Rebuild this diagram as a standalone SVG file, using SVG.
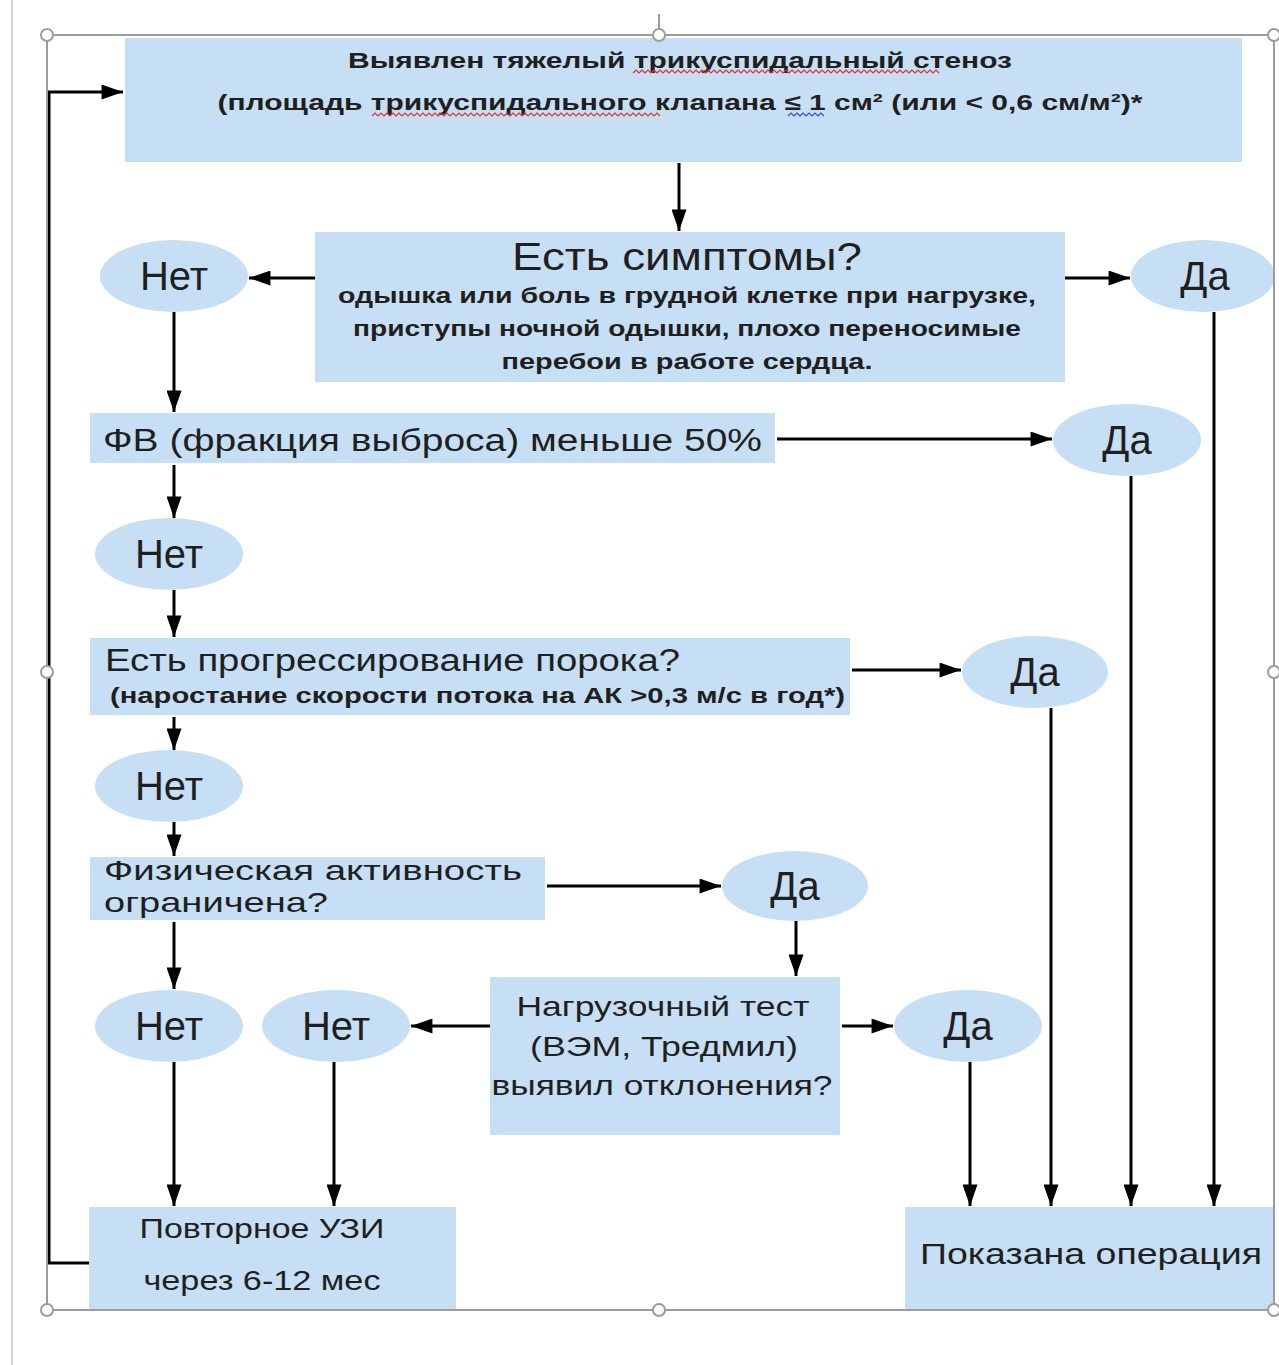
<svg xmlns="http://www.w3.org/2000/svg" width="1279" height="1365" viewBox="0 0 1279 1365">
<style>
.box{fill:#c6dff4}
.ell{fill:#c6dff4}
.t{font-family:"Liberation Sans",Arial,sans-serif;fill:#1f1f1f}
.b{font-weight:bold}
.c{text-anchor:middle}
.ln{fill:none;stroke:#000;stroke-width:3}
.fr{fill:none;stroke:#9c9c9c;stroke-width:2}
.h{fill:#fff;stroke:#9c9c9c;stroke-width:2}
</style>
<defs>
<marker id="ah" viewBox="0 0 20 14" refX="20" refY="7" markerWidth="22" markerHeight="15" markerUnits="userSpaceOnUse" orient="auto">
<path d="M0,0 L20,7 L0,14 z" fill="#000"/>
</marker>
</defs>
<rect width="1279" height="1365" fill="#fff"/>
<line x1="12" y1="0" x2="12" y2="1365" stroke="#d4d4d4" stroke-width="2"/>

<g id="n-top">
<rect class="box" x="125" y="38" width="1117" height="124"/>
<text class="t b c" x="680" y="68" font-size="22" textLength="664" lengthAdjust="spacingAndGlyphs">Выявлен тяжелый трикуспидальный стеноз</text>
<text class="t b c" x="680" y="110" font-size="22" textLength="925" lengthAdjust="spacingAndGlyphs">(площадь трикуспидального клапана ≤ 1 см² (или &lt; 0,6 см/м²)*</text>
<path d="M633,73 l3,-3 l3,3 l3,-3 l3,3 l3,-3 l3,3 l3,-3 l3,3 l3,-3 l3,3 l3,-3 l3,3 l3,-3 l3,3 l3,-3 l3,3 l3,-3 l3,3 l3,-3 l3,3 l3,-3 l3,3 l3,-3 l3,3 l3,-3 l3,3 l3,-3 l3,3 l3,-3 l3,3 l3,-3 l3,3 l3,-3 l3,3 l3,-3 l3,3 l3,-3 l3,3 l3,-3 l3,3 l3,-3 l3,3 l3,-3 l3,3 l3,-3 l3,3 l3,-3 l3,3 l3,-3 l3,3 l3,-3 l3,3 l3,-3 l3,3 l3,-3 l3,3 l3,-3 l3,3 l3,-3 l3,3 l3,-3 l3,3 l3,-3 l3,3 l3,-3 l3,3 l3,-3 l3,3 l3,-3 l3,3 l3,-3 l3,3 l3,-3 l3,3 l3,-3 l3,3 l3,-3 l3,3 l3,-3 l3,3 l3,-3 l3,3 l3,-3 l3,3 l3,-3 l3,3 l3,-3 l3,3 l3,-3 l3,3 l3,-3 l3,3 l3,-3 l3,3 l3,-3 l3,3 l3,-3 l3,3 l3,-3 l3,3 l3,-3 l3,3" fill="none" stroke="#e03030" stroke-width="1.2"/>
<path d="M372,116 l3,-3 l3,3 l3,-3 l3,3 l3,-3 l3,3 l3,-3 l3,3 l3,-3 l3,3 l3,-3 l3,3 l3,-3 l3,3 l3,-3 l3,3 l3,-3 l3,3 l3,-3 l3,3 l3,-3 l3,3 l3,-3 l3,3 l3,-3 l3,3 l3,-3 l3,3 l3,-3 l3,3 l3,-3 l3,3 l3,-3 l3,3 l3,-3 l3,3 l3,-3 l3,3 l3,-3 l3,3 l3,-3 l3,3 l3,-3 l3,3 l3,-3 l3,3 l3,-3 l3,3 l3,-3 l3,3 l3,-3 l3,3 l3,-3 l3,3 l3,-3 l3,3 l3,-3 l3,3 l3,-3 l3,3 l3,-3 l3,3 l3,-3 l3,3 l3,-3 l3,3 l3,-3 l3,3 l3,-3 l3,3 l3,-3 l3,3 l3,-3 l3,3 l3,-3 l3,3 l3,-3 l3,3 l3,-3 l3,3 l3,-3 l3,3 l3,-3 l3,3 l3,-3 l3,3 l3,-3 l3,3 l3,-3 l3,3 l3,-3 l3,3 l3,-3 l3,3 l3,-3 l3,3" fill="none" stroke="#e03030" stroke-width="1.2"/>
<path d="M788,116 l3,-3 l3,3 l3,-3 l3,3 l3,-3 l3,3 l3,-3 l3,3 l3,-3 l3,3 l3,-3 l3,3" fill="none" stroke="#3050e0" stroke-width="1.2"/>
</g>

<g id="n-symptoms">
<rect class="box" x="315" y="232" width="750" height="150"/>
<text class="t c" x="687" y="270" font-size="38" textLength="350" lengthAdjust="spacingAndGlyphs">Есть симптомы?</text>
<text class="t b c" x="687" y="303" font-size="22" fill="#333" textLength="698" lengthAdjust="spacingAndGlyphs">одышка или боль в грудной клетке при нагрузке,</text>
<text class="t b c" x="687" y="336" font-size="22" textLength="668" lengthAdjust="spacingAndGlyphs">приступы ночной одышки, плохо переносимые</text>
<text class="t b c" x="687" y="369" font-size="22" textLength="371" lengthAdjust="spacingAndGlyphs">перебои в работе сердца.</text>
</g>

<g id="n-net1"><ellipse class="ell" cx="174" cy="276" rx="74" ry="36"/><text class="t c" x="174" y="290" font-size="40">Нет</text></g>
<g id="n-da1"><ellipse class="ell" cx="1203" cy="276" rx="72" ry="36"/><text class="t c" x="1205" y="290" font-size="40">Да</text></g>

<g id="n-fv">
<rect class="box" x="90" y="413" width="685" height="50"/>
<text class="t" x="103" y="451" font-size="31" textLength="659" lengthAdjust="spacingAndGlyphs">ФВ  (фракция выброса) меньше 50%</text>
</g>
<g id="n-da2"><ellipse class="ell" cx="1127" cy="440" rx="74" ry="36"/><text class="t c" x="1127" y="454" font-size="40">Да</text></g>
<g id="n-net2"><ellipse class="ell" cx="169" cy="554" rx="74" ry="36"/><text class="t c" x="169" y="568" font-size="40">Нет</text></g>

<g id="n-prog">
<rect class="box" x="90" y="638" width="760" height="77"/>
<text class="t" x="105" y="671" font-size="31" textLength="575" lengthAdjust="spacingAndGlyphs">Есть прогрессирование порока?</text>
<text class="t b" x="110" y="703" font-size="22" fill="#333" textLength="735" lengthAdjust="spacingAndGlyphs">(наростание скорости потока на АК &gt;0,3 м/с в год*)</text>
</g>
<g id="n-da3"><ellipse class="ell" cx="1035" cy="672" rx="73" ry="36"/><text class="t c" x="1035" y="686" font-size="40">Да</text></g>
<g id="n-net3"><ellipse class="ell" cx="169" cy="786" rx="74" ry="36"/><text class="t c" x="169" y="800" font-size="40">Нет</text></g>

<g id="n-fa">
<rect class="box" x="90" y="857" width="455" height="63"/>
<text class="t" x="104" y="880" font-size="28" textLength="418" lengthAdjust="spacingAndGlyphs">Физическая активность</text>
<text class="t" x="104" y="912" font-size="28" textLength="224" lengthAdjust="spacingAndGlyphs">ограничена?</text>
</g>
<g id="n-da4"><ellipse class="ell" cx="795" cy="886" rx="73" ry="35"/><text class="t c" x="795" y="900" font-size="40">Да</text></g>

<g id="n-test">
<rect class="box" x="490" y="977" width="350" height="158"/>
<text class="t c" x="663" y="1016" font-size="28" textLength="293" lengthAdjust="spacingAndGlyphs">Нагрузочный тест</text>
<text class="t c" x="664" y="1056" font-size="28" textLength="268" lengthAdjust="spacingAndGlyphs">(ВЭМ, Тредмил)</text>
<text class="t c" x="662" y="1095" font-size="28" textLength="341" lengthAdjust="spacingAndGlyphs">выявил отклонения?</text>
</g>
<g id="n-net4"><ellipse class="ell" cx="169" cy="1026" rx="74" ry="36"/><text class="t c" x="169" y="1040" font-size="40">Нет</text></g>
<g id="n-net5"><ellipse class="ell" cx="336" cy="1026" rx="74" ry="36"/><text class="t c" x="336" y="1040" font-size="40">Нет</text></g>
<g id="n-da5"><ellipse class="ell" cx="968" cy="1026" rx="74" ry="36"/><text class="t c" x="968" y="1040" font-size="40">Да</text></g>

<g id="n-uzi">
<rect class="box" x="89" y="1207" width="367" height="103"/>
<text class="t c" x="262" y="1238" font-size="27" textLength="245" lengthAdjust="spacingAndGlyphs">Повторное УЗИ</text>
<text class="t c" x="262" y="1290" font-size="27" textLength="237" lengthAdjust="spacingAndGlyphs">через 6-12 мес</text>
</g>
<g id="n-op">
<rect class="box" x="905" y="1207" width="370" height="103"/>
<text class="t c" x="1091" y="1264" font-size="30" textLength="342" lengthAdjust="spacingAndGlyphs">Показана операция</text>
</g>

<g id="connectors">
<path class="ln" marker-end="url(#ah)" d="M679,163 V231"/>
<path class="ln" marker-end="url(#ah)" d="M315,278 H249"/>
<path class="ln" marker-end="url(#ah)" d="M1065,278 H1130"/>
<path class="ln" marker-end="url(#ah)" d="M174,312 V412"/>
<path class="ln" marker-end="url(#ah)" d="M777,439 H1052"/>
<path class="ln" marker-end="url(#ah)" d="M174,465 V518"/>
<path class="ln" marker-end="url(#ah)" d="M174,590 V637"/>
<path class="ln" marker-end="url(#ah)" d="M852,670 H961"/>
<path class="ln" marker-end="url(#ah)" d="M174,717 V750"/>
<path class="ln" marker-end="url(#ah)" d="M174,822 V856"/>
<path class="ln" marker-end="url(#ah)" d="M547,886 H721"/>
<path class="ln" marker-end="url(#ah)" d="M796,921 V976"/>
<path class="ln" marker-end="url(#ah)" d="M490,1026 H411"/>
<path class="ln" marker-end="url(#ah)" d="M842,1026 H893"/>
<path class="ln" marker-end="url(#ah)" d="M174,922 V989"/>
<path class="ln" marker-end="url(#ah)" d="M174,1062 V1206"/>
<path class="ln" marker-end="url(#ah)" d="M334,1062 V1206"/>
<path class="ln" marker-end="url(#ah)" d="M970,1062 V1206"/>
<path class="ln" marker-end="url(#ah)" d="M1051,708 V1206"/>
<path class="ln" marker-end="url(#ah)" d="M1131,476 V1206"/>
<path class="ln" marker-end="url(#ah)" d="M1214,312 V1206"/>
<path class="ln" marker-end="url(#ah)" d="M89,1263 H49 V92 H123"/>
</g>

<g id="selection">
<line x1="659" y1="14" x2="659" y2="35" stroke="#9c9c9c" stroke-width="2"/>
<rect class="fr" x="47" y="35" width="1227" height="1275"/>
<circle class="h" cx="47" cy="35" r="6"/>
<circle class="h" cx="659" cy="35" r="6"/>
<circle class="h" cx="1274" cy="35" r="6"/>
<circle class="h" cx="47" cy="672" r="6"/>
<circle class="h" cx="1274" cy="672" r="6"/>
<circle class="h" cx="47" cy="1310" r="6"/>
<circle class="h" cx="659" cy="1310" r="6"/>
<circle class="h" cx="1274" cy="1310" r="6"/>
</g>
</svg>
